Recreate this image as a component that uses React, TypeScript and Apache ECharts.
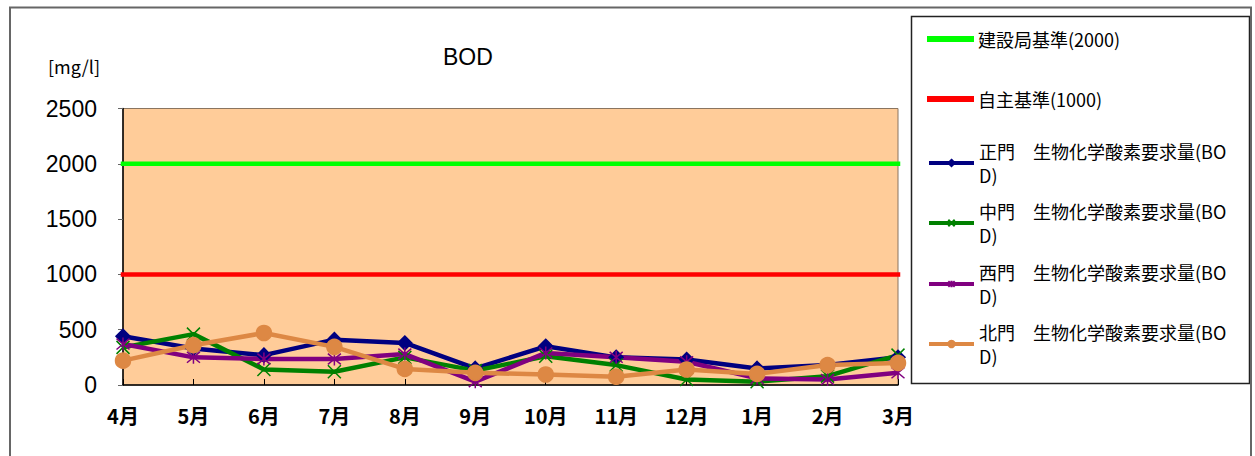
import React, { useEffect, useRef } from "react";
import * as echarts from "echarts";

const months = ["4月", "5月", "6月", "7月", "8月", "9月", "10月", "11月", "12月", "1月", "2月", "3月"];
const yTicks = [0, 500, 1000, 1500, 2000, 2500];
const std2000 = [2000, 2000, 2000, 2000, 2000, 2000, 2000, 2000, 2000, 2000, 2000, 2000];
const std1000 = [1000, 1000, 1000, 1000, 1000, 1000, 1000, 1000, 1000, 1000, 1000, 1000];
const seimon = [440, 330, 270, 410, 380, 150, 350, 250, 230, 150, 180, 250];
const nakamon = [340, 460, 140, 120, 250, 130, 260, 180, 50, 30, 80, 270];
const nishimon = [370, 250, 235, 235, 280, 30, 290, 250, 210, 60, 50, 110];
const kitamon = [220, 360, 470, 345, 145, 110, 95, 75, 140, 100, 180, 200];

const names = [
  "建設局基準(2000)",
  "自主基準(1000)",
  "正門　生物化学酸素要求量(BOD)",
  "中門　生物化学酸素要求量(BOD)",
  "西門　生物化学酸素要求量(BOD)",
  "北門　生物化学酸素要求量(BOD)",
];
const colors = ["#00FF00", "#FF0000", "#000080", "#008000", "#800080", "#DD8844"];

const X_PATH = "path://M0,0L10,10M10,0L0,10";
const STAR_PATH = "path://M0,0L10,10M10,0L0,10M5,-1L5,11";

const FONT = "'Noto Sans CJK JP', 'Liberation Sans', sans-serif";

export default function App() {
  const ref = useRef<HTMLDivElement>(null);
  useEffect(() => {
    if (!ref.current) return;
    const chart = echarts.init(ref.current, null, { renderer: "svg" });
    const legendTops = [27, 87, 127, 187, 248, 308];
    const legends = names.map((n, i) => ({
      orient: "vertical",
      left: 927,
      top: legendTops[i],
      padding: 0,
      itemGap: 0,
      itemWidth: 45,
      itemHeight: i < 2 ? 4 : 8,
      lineStyle: { width: 4 },
      data: i < 2 ? [{ name: n, icon: "rect" }] : [n],
      formatter: (name: string) => name.replace("(BOD)", "(BO\nD)"),
      textStyle: {
        fontFamily: FONT,
        fontSize: 18,
        color: "#000",
        lineHeight: 24,
        padding: i >= 2 ? [24, 0, 0, 0] : 0,
      },
    }));
    const mk = (name: string, data: number[], color: string, symbol: string, size: number, extra: any = {}) => ({
      name,
      type: "line",
      data,
      symbol,
      symbolSize: size,
      lineStyle: { color, width: 4.5 },
      itemStyle: { color, borderColor: color, borderWidth: 1.5 },
      ...extra,
    });
    chart.setOption({
      animation: false,
      backgroundColor: "#fff",
      title: {
        text: "BOD",
        left: 438,
        top: 40,
        textStyle: { fontFamily: "'Liberation Sans', sans-serif", fontSize: 23, fontWeight: "normal", color: "#000" },
      },
      legend: legends,
      grid: {
        left: 123,
        right: 357,
        top: 108.5,
        bottom: 71,
        show: true,
        backgroundColor: "#FFCC99",
        borderColor: "#8a7560",
        borderWidth: 1,
      },
      xAxis: {
        type: "category",
        data: months,
        boundaryGap: false,
        axisLine: { lineStyle: { color: "#000", width: 1.5 } },
        axisTick: { show: true, inside: true, length: 6, lineStyle: { color: "#000" } },
        axisLabel: { fontFamily: FONT, fontSize: 20, fontWeight: "bold", color: "#000", margin: 20 },
      },
      yAxis: {
        type: "value",
        min: 0,
        max: 2500,
        interval: 500,
        name: "[mg/l]",
        nameLocation: "end",
        nameGap: 34,
        nameTextStyle: { fontFamily: FONT, fontSize: 18, color: "#000", align: "right", padding: [0, 23, 0, 0] },
        axisLine: { show: true, lineStyle: { color: "#000", width: 1.5 } },
        axisTick: { show: true, length: 5, lineStyle: { color: "#666" } },
        splitLine: { show: false },
        axisLabel: {
          fontFamily: "'Liberation Sans', sans-serif",
          fontSize: 23,
          color: "#000",
          margin: 26,
          formatter: (v: number) => (yTicks.includes(v) ? String(v) : ""),
        },
      },
      graphic: [
        { type: "rect", shape: { x: 10, y: 7.5, width: 1241, height: 470 }, style: { fill: "none", stroke: "#666", lineWidth: 2 }, silent: true },
        { type: "rect", shape: { x: 911.5, y: 16.5, width: 338, height: 367 }, style: { fill: "#fff", stroke: "#222", lineWidth: 1.5 }, silent: true, z: -1 },
      ],
      series: [
        mk(names[0], std2000, colors[0], "none", 0, { lineStyle: { color: colors[0], width: 4.5, cap: "square" } }),
        mk(names[1], std1000, colors[1], "none", 0, { lineStyle: { color: colors[1], width: 4.5, cap: "square" } }),
        mk(names[2], seimon, colors[2], "diamond", 14),
        mk(names[3], nakamon, colors[3], X_PATH, 13, { itemStyle: { color: "none", borderColor: colors[3], borderWidth: 1.5 } }),
        mk(names[4], nishimon, colors[4], STAR_PATH, 13, { itemStyle: { color: "none", borderColor: colors[4], borderWidth: 1.5 } }),
        mk(names[5], kitamon, colors[5], "circle", 15),
      ],
    });
    return () => chart.dispose();
  }, []);
  return <div ref={ref} style={{ position: "fixed", left: 0, top: 0, width: 1255, height: 456 }} />;
}
